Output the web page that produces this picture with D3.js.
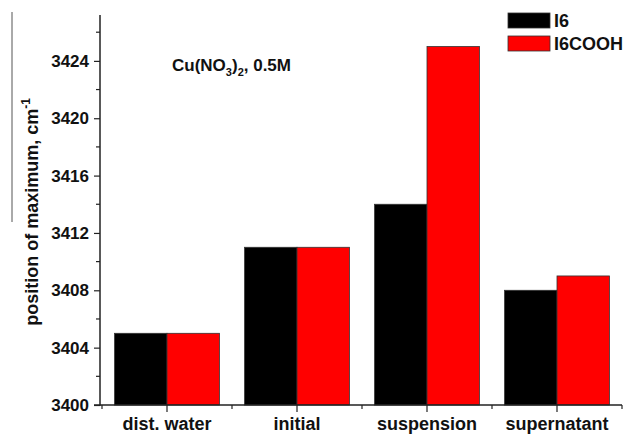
<!DOCTYPE html>
<html>
<head>
<meta charset="utf-8">
<script src="https://cdn.jsdelivr.net/npm/d3@7"></script>
<style>
  body { margin: 0; background: #fff; }
  text { font-family: "Liberation Sans", Arial, sans-serif; font-weight: bold; fill: #111; }
</style>
</head>
<body>
<div id="chart"></div>
<script>
const categories = ['dist. water', 'initial', 'suspension', 'supernatant'];
const seriesNames = ['I6', 'I6COOH'];
const i6 = [3405, 3411, 3414, 3408];
const i6cooh = [3405, 3411, 3425, 3409];
const yTicks = [3400, 3404, 3408, 3412, 3416, 3420, 3424];
const colors = ['#000000', '#ff0000'];

const width = 626, height = 434;
const svg = d3.select('#chart').append('svg')
  .attr('width', width).attr('height', height);

const x = d3.scaleBand().domain(categories).range([102, 622]).paddingInner(0).paddingOuter(0);
const xSub = d3.scaleBand().domain(seriesNames).range([0, x.bandwidth()]).paddingInner(0).paddingOuter(0.24);
const y = d3.scaleLinear().domain([3400, 3427.2]).range([405, 15]);

const rows = categories.map((c, i) => ({ category: c, values: [i6[i], i6cooh[i]] }));

// bars
const groups = svg.selectAll('.grp').data(rows).enter().append('g')
  .attr('transform', d => `translate(${x(d.category)},0)`);
groups.selectAll('rect').data(d => d.values.map((v, j) => ({ name: seriesNames[j], v, j })))
  .enter().append('rect')
  .attr('x', d => xSub(d.name))
  .attr('y', d => y(d.v))
  .attr('width', xSub.bandwidth())
  .attr('height', d => y(3400) - y(d.v))
  .attr('fill', d => colors[d.j])
  .attr('stroke', '#333').attr('stroke-width', 0.8);

// y axis
const yAxis = svg.append('g').attr('transform', 'translate(100,0)')
  .call(d3.axisLeft(y).tickValues(yTicks).tickFormat(d3.format('d')).tickSize(6).tickPadding(5));
yAxis.select('.domain').remove();
yAxis.selectAll('text').style('font-size', '17px');
const minorY = d3.range(3402, 3427, 4);
svg.append('g').selectAll('line').data(minorY).enter().append('line')
  .attr('x1', 96).attr('x2', 100).attr('y1', d => y(d)).attr('y2', d => y(d))
  .attr('stroke', '#222').attr('stroke-width', 1.2);
yAxis.selectAll('line').attr('stroke', '#222').attr('stroke-width', 1.2);

// x axis
const xAxis = svg.append('g').attr('transform', 'translate(0,405)')
  .call(d3.axisBottom(x).tickSize(7));
xAxis.select('.domain').remove();
xAxis.selectAll('line').attr('stroke', '#222').attr('stroke-width', 1.2);
xAxis.selectAll('text').attr('y', 25).attr('dy', 0).style('font-size', '18px');
const bounds = categories.map(c => x(c)).concat([x.range()[1]]);
svg.append('g').selectAll('line').data(bounds).enter().append('line')
  .attr('x1', d => d).attr('x2', d => d).attr('y1', 405).attr('y2', 409)
  .attr('stroke', '#222').attr('stroke-width', 1.2);

// axis lines
svg.append('line').attr('x1', 100).attr('x2', 100).attr('y1', y.range()[1]).attr('y2', 405.7)
  .attr('stroke', '#222').attr('stroke-width', 1.5);
svg.append('line').attr('x1', 94).attr('x2', 622).attr('y1', 405).attr('y2', 405)
  .attr('stroke', '#222').attr('stroke-width', 1.5);

// y label
const yl = svg.append('text')
  .attr('transform', 'translate(38,212) rotate(-90)')
  .attr('text-anchor', 'middle')
  .style('font-size', '18px');
yl.append('tspan').text('position of maximum, cm');
yl.append('tspan').attr('dy', -8).style('font-size', '12px').text('-1');
svg.append('line').attr('x1', 12).attr('x2', 12).attr('y1', 12).attr('y2', 222)
  .attr('stroke', '#555').attr('stroke-width', 1);

// annotation
const ann = svg.append('text').attr('x', 172).attr('y', 71).style('font-size', '17px');
ann.append('tspan').text('Cu(NO');
ann.append('tspan').attr('dy', 5).style('font-size', '11px').text('3');
ann.append('tspan').attr('dy', -5).text(')');
ann.append('tspan').attr('dy', 5).style('font-size', '11px').text('2');
ann.append('tspan').attr('dy', -5).text(', 0.5M');

// legend
const legend = svg.append('g').attr('transform', 'translate(508,13)');
seriesNames.forEach((n, i) => {
  legend.append('rect').attr('x', 0).attr('y', i * 23).attr('width', 42).attr('height', 15)
    .attr('fill', colors[i]).attr('stroke', '#333').attr('stroke-width', 0.8);
  legend.append('text').attr('x', 46).attr('y', i * 23 + 14).style('font-size', '18px').text(n);
});
</script>
</body>
</html>
